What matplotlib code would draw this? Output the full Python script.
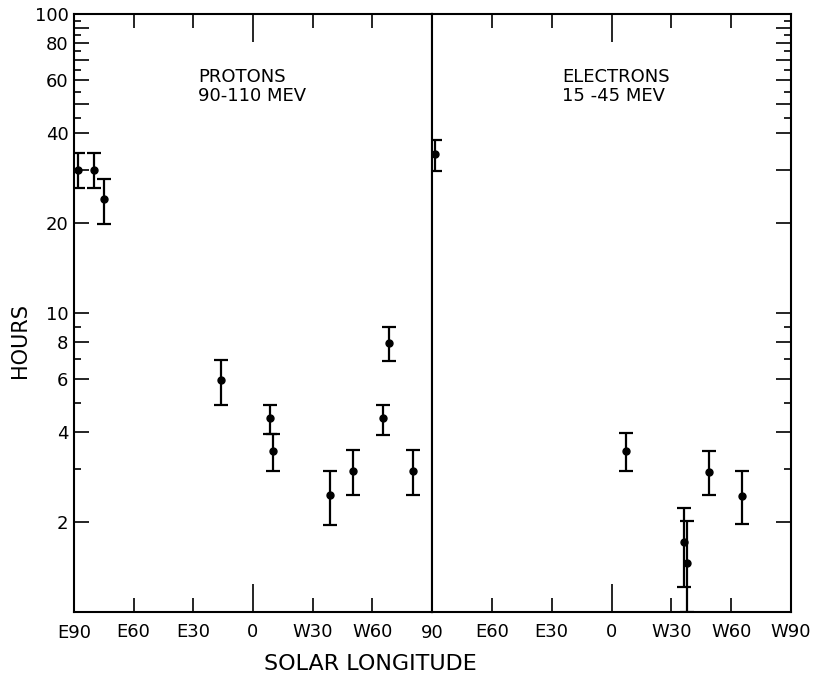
import matplotlib
matplotlib.use("Agg")
import matplotlib.pyplot as plt
from matplotlib.ticker import FixedLocator, FixedFormatter, NullFormatter

plt.rcParams['font.family'] = ['DejaVu Sans']
plt.rcParams['font.size'] = 13

# protons 90-110 MeV
p_lon = [-88, -80, -75, -16, 8.5, 10, 38.5, 50.5, 65.5, 68.5, 80.5]
p_val = [30, 30, 24, 5.95, 4.45, 3.45, 2.47, 2.96, 4.46, 7.95, 2.96]
p_lo = [26.1, 26.1, 19.9, 4.94, 3.95, 2.96, 1.95, 2.47, 3.90, 6.93, 2.47]
p_hi = [34.3, 34.3, 28.0, 6.97, 4.94, 3.95, 2.96, 3.47, 4.94, 9.0, 3.47]

# electrons 15-45 MeV
e_lon = [-88.5, 7.5, 36.3, 37.7, 49, 65.5]
e_val = [33.9, 3.46, 1.71, 1.46, 2.94, 2.45]
e_lo = [29.8, 2.96, 1.21, 1.0, 2.46, 1.97]
e_hi = [37.8, 3.97, 2.22, 2.01, 3.46, 2.96]

y_major = [2, 4, 6, 8, 10, 20, 30, 40, 50, 60, 70, 80, 90, 100]
y_labels = ['2', '4', '6', '8', '10', '20', '', '40', '', '60', '', '80', '', '100']
y_minor = [3, 5, 7, 9, 45, 55, 65, 75, 85, 95]

W, H = 817, 687
fig = plt.figure(figsize=(W / 100, H / 100), dpi=100)
ax1 = fig.add_axes([74 / W, 75 / H, 358 / W, 598 / H])
ax2 = fig.add_axes([432 / W, 75 / H, 359 / W, 598 / H])


def draw(ax, lon, val, lo, hi):
    err = [[v - l for v, l in zip(val, lo)], [h - v for v, h in zip(val, hi)]]
    ax.errorbar(lon, val, yerr=err, fmt='o', color='black', ms=5,
                elinewidth=1.6, capsize=5, capthick=1.6)
    ax.set_yscale('log')
    ax.set_ylim(1, 100)
    ax.set_xlim(-90, 90)
    for s in ax.spines.values():
        s.set_linewidth(1.5)
    ax.xaxis.set_major_locator(FixedLocator([0]))
    ax.tick_params(axis='x', which='major', direction='in', length=20,
                   width=1.2, top=True, pad=8)
    ax.tick_params(axis='x', which='minor', direction='in', length=10,
                   width=1.2, top=True, pad=8)


draw(ax1, p_lon, p_val, p_lo, p_hi)
draw(ax2, e_lon, e_val, e_lo, e_hi)

# x ticks
ax1.set_xticks([0], ['0'])
ax1.set_xticks([-60, -30, 30, 60], ['E60', 'E30', 'W30', 'W60'], minor=True)
ax1.text(-90, 1, 'E90', transform=ax1.transData, ha='center', va='top')
ax2.set_xticks([0], ['0'])
ax2.set_xticks([-60, -30, 30, 60, 90], ['E60', 'E30', 'W30', 'W60', 'W90'], minor=True)
for ax in (ax1, ax2):
    for lab in ax.get_xticklabels(which='both'):
        lab.set_fontsize(13)
ax1.annotate('E90', xy=(0, 0), xycoords='axes fraction', xytext=(0, -9),
             textcoords='offset points', ha='center', va='top', fontsize=13)
ax1.annotate('90', xy=(1, 0), xycoords='axes fraction', xytext=(0, -9),
             textcoords='offset points', ha='center', va='top', fontsize=13)
ax1.texts[0].remove()

# y ticks
for ax in (ax1, ax2):
    ax.yaxis.set_major_locator(FixedLocator(y_major))
    ax.yaxis.set_minor_locator(FixedLocator(y_minor))
    ax.yaxis.set_minor_formatter(NullFormatter())
    ax.tick_params(axis='y', which='major', direction='in', length=11, width=1.2)
    ax.tick_params(axis='y', which='minor', direction='in', length=5, width=1.2)
ax1.yaxis.set_major_formatter(FixedFormatter(y_labels))
ax1.tick_params(axis='y', which='both', left=True, right=False, labelsize=13, pad=4)
ax2.tick_params(axis='y', which='both', left=False, right=True, labelleft=False)

ax1.text(0.346, 0.91, 'PROTONS\n90-110 MEV', transform=ax1.transAxes,
         ha='left', va='top', fontsize=13, linespacing=1.1)
ax2.text(0.362, 0.91, 'ELECTRONS\n15 -45 MEV', transform=ax2.transAxes,
         ha='left', va='top', fontsize=13, linespacing=1.1)

fig.text(20 / W, 1 - 340 / H, 'HOURS', rotation=90, ha='center', va='center',
         fontsize=15)
fig.text(370 / W, 1 - 664 / H, 'SOLAR LONGITUDE', ha='center', va='center',
         fontsize=16)

fig.savefig('out.png', dpi=100)
